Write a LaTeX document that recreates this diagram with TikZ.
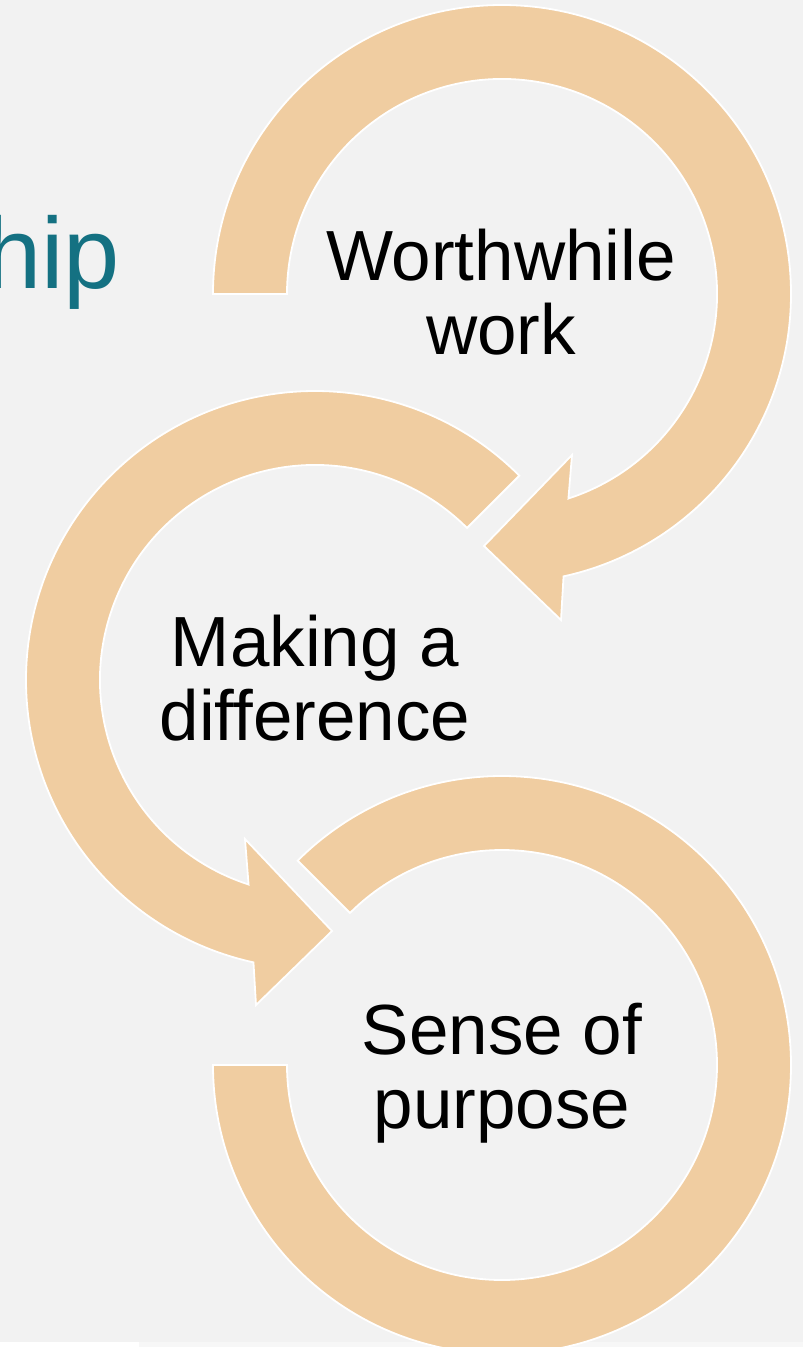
\documentclass[tikz,border=0pt]{standalone}
\usepackage{fontspec}
\setmainfont{Liberation Sans}
\usetikzlibrary{calc}
\definecolor{bg}{RGB}{242,242,242}
\definecolor{tan}{RGB}{240,205,161}
\definecolor{teal}{RGB}{20,113,130}
\definecolor{strip}{RGB}{247,247,247}
\tikzset{
  ring/.style={fill=tan, draw=white, line width=1.8pt, line join=miter},
  lbl/.style={align=center, inner sep=0pt, text=black, font=\fontsize{71}{74}\selectfont},
}
\begin{document}
\begin{tikzpicture}[x=1pt,y=1pt]
\useasboundingbox (0,0) rectangle (803,-1347);
\fill[bg] (0,0) rectangle (803,-1347);
\fill[white] (0,-1342) rectangle (139,-1347);
\fill[strip] (139,-1342) rectangle (803,-1347);

\coordinate (C1) at (502,-294);
\coordinate (C2) at (315,-680);
\coordinate (C3) at (502,-1065);

% title fragment
\node[anchor=base west, inner sep=0pt, text=teal, font=\fontsize{101}{106}\selectfont] (title) at (-15,-288) {hip};

% arrow 1
\path[ring] ($(C1)+(180:289)$) arc[start angle=180, end angle=-77.7, radius=289]
  -- (561,-620) -- (484,-546) -- (572,-455)
  -- ($(C1)+(-72:215)$) arc[start angle=-72, end angle=180, radius=215] -- cycle;

% arrow 2
\path[ring] ($(C2)+(45:289)$) arc[start angle=45, end angle=257.7, radius=289]
  -- (256,-1005) -- (332,-931) -- (245,-839)
  -- ($(C2)+(252:215)$) arc[start angle=252, end angle=45, radius=215] -- cycle;

% arrow 3
\path[ring] ($(C3)+(180:289)$) arc[start angle=180, end angle=495, radius=289]
  -- ($(C3)+(135:215)$) arc[start angle=495, end angle=180, radius=215] -- cycle;

\node[lbl, anchor=base] (t1) at (501,-354) {Worthwhile\\work};
\node[lbl, anchor=base] (t2) at (315,-740) {Making a\\difference};
\node[lbl, anchor=base] (t3) at (502,-1128) {Sense of\\purpose};
\end{tikzpicture}
\end{document}
